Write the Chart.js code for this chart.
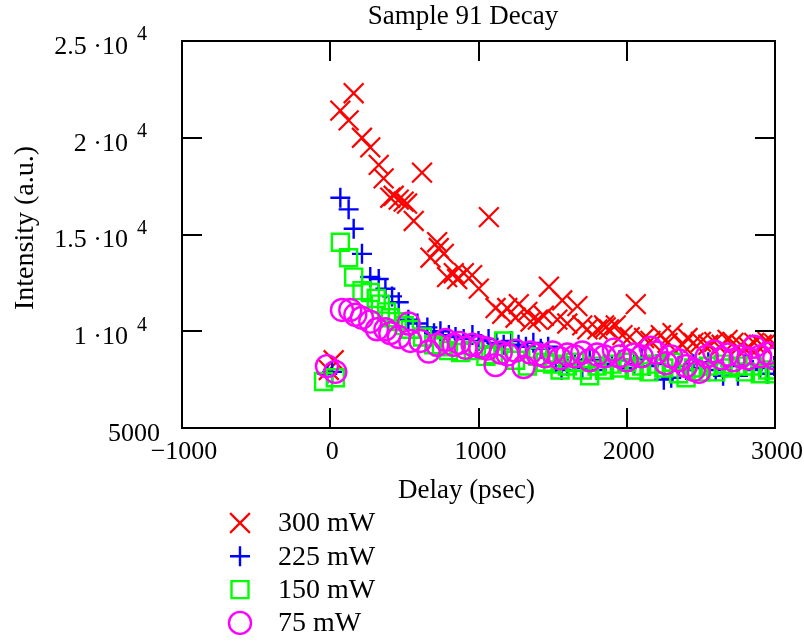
<!DOCTYPE html>
<html><head><meta charset="utf-8">
<script src="https://cdn.jsdelivr.net/npm/chart.js@4/dist/chart.umd.min.js"></script>
<style>html,body{margin:0;padding:0;background:#fff;}canvas{display:block}</style>
</head><body>
<canvas id="c" width="804" height="642"></canvas>
<script>
const chartTitle = 'Sample 91 Decay';
const xTitle = 'Delay (psec)';
const yTitle = 'Intensity (a.u.)';
const seriesNames = ['300 mW', '225 mW', '150 mW', '75 mW'];

const delay300 = [-10, 23, 68, 124, 158, 214, 270, 327, 360, 405, 428, 462, 495, 518, 563, 619, 676, 721, 732, 766, 788, 833, 856, 901, 957, 1002, 1070, 1115, 1160, 1194, 1250, 1272, 1329, 1351, 1400, 1441, 1475, 1532, 1565, 1599, 1667, 1700, 1734, 1802, 1847, 1858, 1880, 1926, 1971, 2020, 2061, 2117, 2160, 2230, 2275, 2309, 2376, 2410, 2450, 2500, 2550, 2590, 2640, 2680, 2720, 2770, 2820, 2860, 2910, 2950, 2995];
const int300 = [8000, 8500, 21400, 20900, 22300, 20000, 19500, 18600, 17900, 16900, 17000, 16800, 16700, 16600, 15700, 18200, 13800, 14600, 14300, 14000, 12800, 13000, 12700, 13000, 12900, 12200, 15900, 11200, 10900, 11200, 10700, 11400, 11000, 10500, 10600, 10800, 12300, 10600, 11600, 10400, 11300, 10300, 10100, 10100, 10300, 10200, 10100, 10300, 9800, 9700, 11400, 9650, 9500, 9800, 9400, 9900, 9300, 9650, 9400, 9450, 9300, 9450, 9300, 9550, 9400, 9300, 9200, 9400, 9300, 9450, 9350];

const delay225 = [-20, 13, 68, 124, 158, 214, 270, 327, 372, 417, 462, 527, 588, 655, 700, 743, 800, 845, 900, 959, 1000, 1068, 1120, 1170, 1220, 1270, 1320, 1370, 1420, 1470, 1520, 1560, 1600, 1650, 1700, 1750, 1800, 1850, 1900, 1950, 2000, 2050, 2100, 2150, 2200, 2250, 2300, 2350, 2400, 2450, 2500, 2550, 2600, 2650, 2700, 2750, 2800, 2850, 2900, 2950, 2995];
const int225 = [7800, 7900, 16900, 16300, 15300, 14000, 12800, 12700, 12200, 11800, 11500, 10600, 10400, 10200, 9900, 10000, 9800, 9700, 9600, 9800, 9500, 9600, 9400, 9300, 9500, 9300, 9200, 9400, 9100, 9200, 8400, 8000, 8200, 8300, 8100, 8500, 8000, 8300, 8200, 8500, 8100, 8300, 8600, 8200, 8300, 7500, 7600, 8200, 8000, 8300, 8100, 8400, 8000, 7700, 8200, 7700, 8300, 8000, 8100, 7800, 8200];

const delay150 = [-45, 34, 68, 124, 158, 214, 270, 310, 338, 380, 405, 452, 500, 540, 622, 698, 750, 797, 880, 965, 1050, 1100, 1170, 1250, 1330, 1400, 1450, 1500, 1550, 1600, 1650, 1700, 1750, 1800, 1850, 1900, 1950, 2000, 2050, 2100, 2150, 2200, 2250, 2300, 2350, 2400, 2450, 2500, 2550, 2600, 2650, 2700, 2750, 2800, 2850, 2900, 2950, 2995];
const int150 = [7400, 7600, 14600, 13800, 12800, 12100, 12000, 11700, 11400, 11000, 10700, 10500, 10300, 10100, 9700, 9300, 9200, 9000, 8900, 9000, 8700, 8800, 9500, 8500, 8200, 8700, 8400, 8300, 8000, 8200, 8400, 8000, 7700, 8200, 8000, 8300, 8100, 8400, 8000, 8200, 7900, 8300, 8100, 8400, 7800, 7600, 8100, 7900, 8200, 7900, 8300, 8100, 8200, 7900, 8200, 7800, 8000, 7800];

const delay75 = [-22, 34, 79, 135, 169, 214, 270, 315, 372, 405, 462, 529, 540, 608, 664, 721, 777, 833, 870, 912, 960, 1010, 1060, 1115, 1150, 1196, 1250, 1304, 1350, 1400, 1450, 1500, 1550, 1600, 1650, 1700, 1750, 1800, 1850, 1913, 1950, 2000, 2050, 2100, 2162, 2200, 2264, 2300, 2350, 2400, 2453, 2487, 2540, 2590, 2640, 2680, 2720, 2770, 2820, 2860, 2900, 2950, 2995];
const int75 = [8200, 7900, 11100, 11100, 10850, 10700, 10500, 10100, 10100, 9900, 9700, 10400, 9500, 9500, 8950, 9300, 9550, 9300, 9400, 9150, 9300, 9200, 9100, 8250, 8900, 8800, 9000, 8150, 8900, 8800, 8700, 8900, 8600, 8800, 8700, 8900, 8500, 8800, 8700, 9050, 8700, 8500, 8800, 8700, 9150, 8900, 8350, 8700, 8500, 8200, 8000, 7900, 8700, 8950, 8600, 8800, 8500, 8700, 8600, 9200, 8700, 8850, 8600];

const xTicks = [-1000, 0, 1000, 2000, 3000];
const xTickLabels = ['\u22121000', '0', '1000', '2000', '3000'];
const yTicks = [5000, 10000, 15000, 20000, 25000];
const yTickBase = ['5000', '1 \u00b710', '1.5 \u00b710', '2 \u00b710', '2.5 \u00b710'];
const yTickExp = ['', '4', '4', '4', '4'];

function zip(xs, ys) { return xs.map((x, i) => ({ x: x, y: ys[i] })); }

const FONT = '"Liberation Serif", "Times New Roman", serif';
const styles = [
  { color: '#ff0000', pointStyle: 'crossRot', radius: 14, width: 2.2, order: 4 },
  { color: '#0000ff', pointStyle: 'cross', radius: 10, width: 2.4, order: 3 },
  { color: '#00ff00', pointStyle: 'rect', radius: 12, width: 2.4, order: 2 },
  { color: '#ff00ff', pointStyle: 'circle', radius: 11, width: 2.4, order: 1 }
];
const seriesData = [zip(delay300, int300), zip(delay225, int225), zip(delay150, int150), zip(delay75, int75)];

const datasets = seriesData.map((d, i) => ({
  label: seriesNames[i],
  data: d,
  order: styles[i].order,
  pointStyle: styles[i].pointStyle,
  pointRadius: styles[i].radius,
  pointHoverRadius: styles[i].radius,
  pointBorderWidth: styles[i].width,
  borderColor: styles[i].color,
  backgroundColor: 'rgba(0,0,0,0)',
  showLine: false,
  clip: 0
}));

const decor = {
  id: 'decor',
  afterDraw(chart) {
    const ctx = chart.ctx;
    const a = chart.chartArea;
    const xs = chart.scales.x, ys = chart.scales.y;
    ctx.save();
    ctx.strokeStyle = '#000';
    ctx.lineWidth = 2;
    ctx.strokeRect(a.left, a.top, a.right - a.left, a.bottom - a.top);
    const tl = 20;
    ctx.beginPath();
    xTicks.forEach(v => {
      const px = Math.round(xs.getPixelForValue(v));
      ctx.moveTo(px, a.bottom); ctx.lineTo(px, a.bottom - tl);
      ctx.moveTo(px, a.top); ctx.lineTo(px, a.top + tl);
    });
    yTicks.forEach(v => {
      const py = Math.round(ys.getPixelForValue(v));
      ctx.moveTo(a.left, py); ctx.lineTo(a.left + tl, py);
      ctx.moveTo(a.right, py); ctx.lineTo(a.right - tl, py);
    });
    ctx.stroke();

    ctx.fillStyle = '#000';
    ctx.font = '26px ' + FONT;
    ctx.textAlign = 'center';
    ctx.textBaseline = 'middle';
    xTicks.forEach((v, i) => {
      ctx.fillText(xTickLabels[i], xs.getPixelForValue(v) + 2, a.bottom + 24);
    });
    yTicks.forEach((v, i) => {
      const py = ys.getPixelForValue(v);
      ctx.textAlign = 'right';
      ctx.font = '26px ' + FONT;
      if (yTickExp[i]) {
        ctx.fillText(yTickBase[i], a.left - 54, py + 6);
        ctx.textAlign = 'left';
        ctx.font = '20px ' + FONT;
        ctx.fillText(yTickExp[i], a.left - 45, py - 6);
      } else {
        ctx.fillText(yTickBase[i], a.left - 22, py + 6);
      }
    });

    ctx.textAlign = 'center';
    ctx.font = '27px ' + FONT;
    ctx.fillText(chartTitle, 463, 17);
    ctx.fillText(xTitle, (a.left + a.right) / 2 - 12, 491);
    ctx.save();
    ctx.font = '28px ' + FONT;
    ctx.translate(26, 228);
    ctx.rotate(-Math.PI / 2);
    ctx.fillText(yTitle, 0, 0);
    ctx.restore();

    // legend
    const lx = 240, ly0 = 523, dy = 33.3;
    chart.data.datasets.forEach((ds, i) => {
      const y = ly0 + i * dy;
      ctx.strokeStyle = styles[i].color;
      ctx.fillStyle = 'rgba(0,0,0,0)';
      ctx.lineWidth = styles[i].width;
      Chart.helpers.drawPoint(ctx, { pointStyle: styles[i].pointStyle, radius: styles[i].radius, rotation: 0, borderWidth: styles[i].width }, lx, y);
      ctx.fillStyle = '#000';
      ctx.textAlign = 'left';
      ctx.font = '28px ' + FONT;
      ctx.fillText(ds.label, 278, y + 1);
    });
    ctx.restore();
  }
};

new Chart(document.getElementById('c').getContext('2d'), {
  type: 'scatter',
  data: { datasets: datasets },
  options: {
    responsive: false,
    animation: false,
    devicePixelRatio: 1,
    layout: { padding: { left: 182, right: 29, top: 41, bottom: 214 } },
    scales: {
      x: { type: 'linear', min: -1000, max: 3000, display: false },
      y: { type: 'linear', min: 5000, max: 25000, display: false }
    },
    plugins: { legend: { display: false }, tooltip: { enabled: false } },
    events: []
  },
  plugins: [decor]
});
</script>
</body></html>
